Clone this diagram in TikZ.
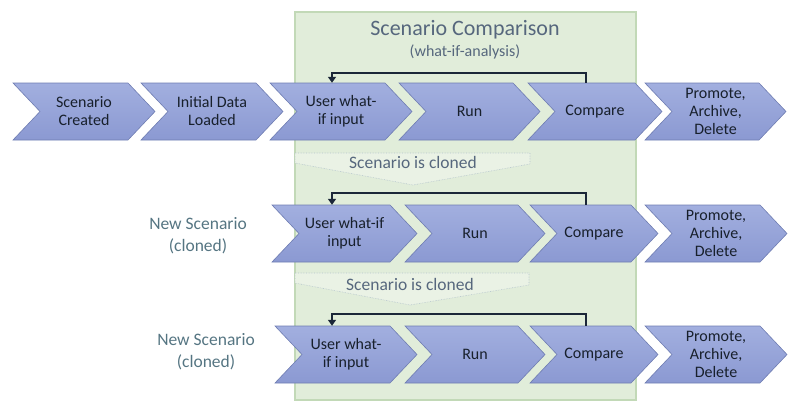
\documentclass[tikz,border=0pt]{standalone}
\usepackage{fontspec}
\setmainfont{Carlito}
\usetikzlibrary{arrows.meta}
\definecolor{chevtop}{HTML}{A2AFDF}
\definecolor{chevbot}{HTML}{8B99D2}
\definecolor{chevline}{HTML}{6F7DB2}
\definecolor{chevtxt}{HTML}{18202C}
\definecolor{panelfill}{HTML}{E1EDDA}
\definecolor{panelline}{HTML}{C2D9B7}
\definecolor{titletxt}{HTML}{56677D}
\definecolor{sidetxt}{HTML}{557582}
\definecolor{fbline}{HTML}{1B2738}
\definecolor{cloneline}{HTML}{B4C4CC}
\newcommand\chevron[5]{%
  \path[chevshape] (#2,#3) -- ({#4-27},#3) -- (#4,{#3+28.5}) -- ({#4-27},{#3+57}) -- (#2,{#3+57}) -- ({#2+27},{#3+28.5}) -- cycle;
  \node[chevtext] (#1) at ({(#2+#4)/2},{#3+28.5}) {#5};}
\begin{document}
\begin{tikzpicture}[x=1pt,y=-1pt,
  chevshape/.style={top color=chevtop,bottom color=chevbot,draw=chevline,line width=0.6pt},
  chevtext/.style={inner sep=0pt,minimum height=57pt,align=center,text=chevtxt,font=\fontsize{16}{18}\selectfont},
  fb/.style={draw=fbline,line width=2pt,-{Triangle[width=8pt,length=6pt]}},
  clonebox/.style={fill=panelfill!70!white,draw=cloneline,line width=0.6pt,densely dotted},
  clonetext/.style={text=titletxt,font=\fontsize{17.5}{20}\selectfont,inner sep=0pt},
  sidelabel/.style={text=sidetxt,align=center,font=\fontsize{17.5}{22}\selectfont,inner sep=0pt}]
\useasboundingbox (0,0) rectangle (800,410);
% panel
\path[fill=panelfill,draw=panelline,line width=1.5pt] (295,12) rectangle (636,400);
\node[text=titletxt,font=\fontsize{22}{24}\selectfont,inner sep=0pt] (title) at (465,30) {Scenario Comparison};
\node[text=titletxt,font=\fontsize{16}{18}\selectfont,inner sep=0pt] (subtitle) at (465,52) {(what-if-analysis)};
% row 1
\chevron{sc1}{13}{83}{155}{Scenario\\Created}
\chevron{init1}{141}{83}{283}{Initial Data\\Loaded}
\chevron{usr1}{270}{83}{412}{User what-\\if input}
\chevron{run1}{399}{83}{540}{Run}
\chevron{cmp1}{528}{83}{662}{Compare}
\chevron{prm1}{645}{83}{786}{Promote,\\Archive,\\Delete}
% clone banner 1
\path[clonebox] (295,153) -- (530,153) -- (530,164) -- (413,185) -- (295,163) -- cycle;
\node[clonetext] (clone1) at (413,162) {Scenario is cloned};
% row 2
\node[sidelabel] (new2) at (198,236) {New Scenario\\(cloned)};
\chevron{usr2}{272}{205}{417}{User what-if\\input}
\chevron{run2}{405}{205}{545}{Run}
\chevron{cmp2}{530}{205}{658}{Compare}
\chevron{prm2}{645}{205}{787}{Promote,\\Archive,\\Delete}
% clone banner 2
\path[clonebox] (295,273) -- (529,273) -- (529,285) -- (410,305) -- (295,283) -- cycle;
\node[clonetext] (clone2) at (410,284) {Scenario is cloned};
% row 3
\node[sidelabel] (new3) at (206,352) {New Scenario\\(cloned)};
\chevron{usr3}{275}{326}{417}{User what-\\if input}
\chevron{run3}{405}{326}{545}{Run}
\chevron{cmp3}{530}{326}{658}{Compare}
\chevron{prm3}{645}{326}{787}{Promote,\\Archive,\\Delete}
% feedback arrows
\draw[fb] (cmp1.north -| 586,0) -- ++(0,-10) -| (usr1.north -| 332,0);
\draw[fb] (cmp2.north -| 586,0) -- ++(0,-12) -| (usr2.north -| 332,0);
\draw[fb] (cmp3.north -| 586,0) -- ++(0,-12) -| (usr3.north -| 332,0);
\end{tikzpicture}
\end{document}
